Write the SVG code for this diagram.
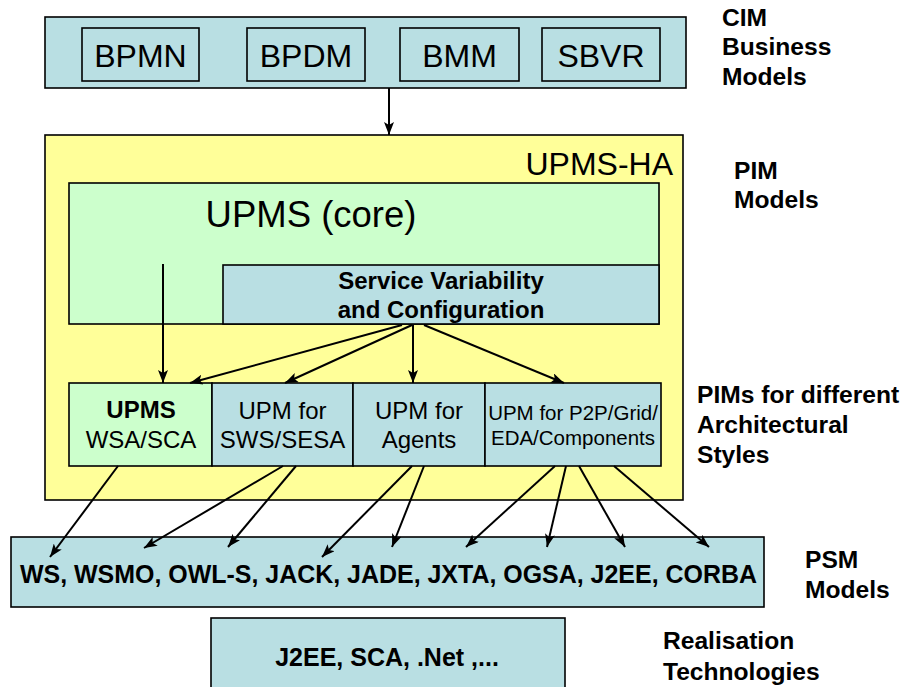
<svg xmlns="http://www.w3.org/2000/svg" width="906" height="687" viewBox="0 0 906 687">
<defs>
<style>
.teal{fill:#b9dfe3;stroke:#000;stroke-width:1.6}
.green{fill:#ccffcc;stroke:#000;stroke-width:1.6}
.yellow{fill:#ffff99;stroke:#000;stroke-width:1.6}
.t{font-family:"Liberation Sans",Arial,sans-serif;fill:#000}
.b{font-weight:bold}
.lbl{font-family:"Liberation Sans",Arial,sans-serif;font-weight:bold;font-size:24.6px;fill:#000}
.c{stroke:#000;stroke-width:2;fill:none;marker-end:url(#ah)}
</style>
<marker id="ah" viewBox="0 0 13 10" refX="13" refY="5" markerWidth="13" markerHeight="10" markerUnits="userSpaceOnUse" orient="auto">
<path d="M0,0 L13,5 L0,10 L3,5 Z" fill="#000"/>
</marker>
</defs>
<rect width="906" height="687" fill="#fff"/>

<g id="cim">
<rect class="teal" x="45" y="17" width="641" height="71"/>
<g id="bpmn"><rect class="teal" x="82" y="28" width="117" height="53"/><text class="t" x="140.5" y="67" font-size="32" text-anchor="middle">BPMN</text></g>
<g id="bpdm"><rect class="teal" x="247" y="28" width="118" height="53"/><text class="t" x="306" y="67" font-size="32" text-anchor="middle">BPDM</text></g>
<g id="bmm"><rect class="teal" x="400" y="28" width="119" height="53"/><text class="t" x="459.5" y="67" font-size="32" text-anchor="middle">BMM</text></g>
<g id="sbvr"><rect class="teal" x="542" y="28" width="118" height="53"/><text class="t" x="601" y="67" font-size="32" text-anchor="middle">SBVR</text></g>
</g>

<g id="upms-ha">
<rect class="yellow" x="45" y="135" width="638" height="365"/>
<text class="t" x="673" y="175" font-size="32" text-anchor="end">UPMS-HA</text>
</g>

<g id="upms-core">
<rect class="green" x="69" y="183" width="590" height="141"/>
<text class="t" x="311" y="227" font-size="36.5" text-anchor="middle">UPMS (core)</text>
</g>

<g id="service-variability">
<rect class="teal" x="223" y="265" width="436" height="59"/>
<text class="t b" x="441" y="289" font-size="24" text-anchor="middle">Service Variability</text>
<text class="t b" x="441" y="318" font-size="24" text-anchor="middle">and Configuration</text>
</g>

<g id="upms-wsa">
<rect class="green" x="69" y="383" width="143" height="83"/>
<text class="t b" x="141" y="418" font-size="24" text-anchor="middle">UPMS</text>
<text class="t" x="141" y="448" font-size="24" text-anchor="middle">WSA/SCA</text>
</g>
<g id="upm-sws">
<rect class="teal" x="212" y="383" width="141" height="83"/>
<text class="t" x="282.5" y="419" font-size="24" text-anchor="middle">UPM for</text>
<text class="t" x="282.5" y="448" font-size="24" text-anchor="middle">SWS/SESA</text>
</g>
<g id="upm-agents">
<rect class="teal" x="353" y="383" width="132" height="83"/>
<text class="t" x="419" y="419" font-size="24" text-anchor="middle">UPM for</text>
<text class="t" x="419" y="448" font-size="24" text-anchor="middle">Agents</text>
</g>
<g id="upm-p2p">
<rect class="teal" x="485" y="383" width="176" height="83"/>
<text class="t" x="573" y="420" font-size="20.5" text-anchor="middle">UPM for P2P/Grid/</text>
<text class="t" x="573" y="445" font-size="20.5" text-anchor="middle">EDA/Components</text>
</g>

<g id="psm">
<rect class="teal" x="11" y="537" width="753" height="70"/>
<text class="t b" x="20" y="583" font-size="25" textLength="737" lengthAdjust="spacingAndGlyphs">WS, WSMO, OWL-S, JACK, JADE, JXTA, OGSA, J2EE, CORBA</text>
</g>

<g id="realisation">
<rect class="teal" x="211" y="618" width="354" height="80"/>
<text class="t b" x="387" y="666" font-size="25" text-anchor="middle">J2EE, SCA, .Net ,...</text>
</g>

<g id="labels">
<text class="lbl" x="722" y="26">CIM</text>
<text class="lbl" x="722" y="55">Business</text>
<text class="lbl" x="722" y="85">Models</text>
<text class="lbl" x="734" y="179">PIM</text>
<text class="lbl" x="734" y="208">Models</text>
<text class="lbl" x="697" y="403">PIMs for different</text>
<text class="lbl" x="697" y="433">Architectural</text>
<text class="lbl" x="697" y="463">Styles</text>
<text class="lbl" x="805" y="568">PSM</text>
<text class="lbl" x="805" y="598">Models</text>
<text class="lbl" x="663" y="649">Realisation</text>
<text class="lbl" x="663" y="680">Technologies</text>
</g>

<g id="connectors">
<line class="c" x1="389" y1="88" x2="389" y2="135"/>
<line class="c" x1="163" y1="264" x2="163" y2="383"/>
<line class="c" x1="402" y1="325" x2="190" y2="383"/>
<line class="c" x1="412" y1="325" x2="285" y2="383"/>
<line class="c" x1="413" y1="325" x2="413" y2="383"/>
<line class="c" x1="424" y1="325" x2="564" y2="383"/>
<line class="c" x1="118" y1="466" x2="50" y2="557"/>
<line class="c" x1="283" y1="466" x2="144" y2="548"/>
<line class="c" x1="296" y1="466" x2="228" y2="547"/>
<line class="c" x1="412" y1="466" x2="322" y2="557"/>
<line class="c" x1="424" y1="466" x2="392" y2="547"/>
<line class="c" x1="555" y1="466" x2="466" y2="547"/>
<line class="c" x1="566" y1="466" x2="547" y2="547"/>
<line class="c" x1="579" y1="466" x2="625" y2="547"/>
<line class="c" x1="614" y1="466" x2="709" y2="547"/>
</g>
</svg>
